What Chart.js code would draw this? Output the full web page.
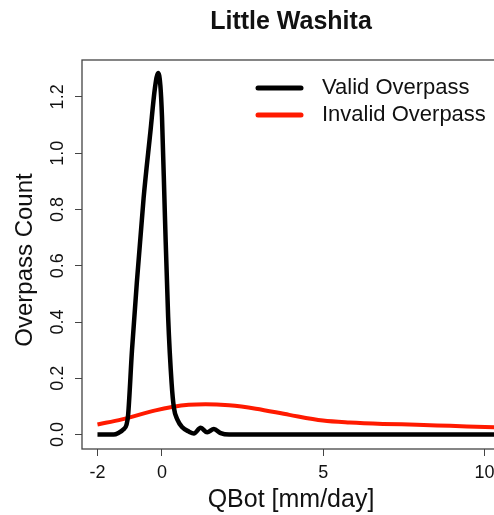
<!DOCTYPE html>
<html>
<head>
<meta charset="utf-8">
<script src="https://cdn.jsdelivr.net/npm/chart.js@4"></script>
<style>
  html, body { margin:0; padding:0; background:#fff; overflow:hidden; }
  #wrap { width:510px; height:515px; }
</style>
</head>
<body>
<div id="wrap"><canvas id="chart" width="510" height="515"></canvas></div>
<script>
// ===== Datos =====
const validX = [-2.0, -1.5, -1.35, -1.2, -1.1, -1.05, -0.93, -0.78, -0.57, -0.36, -0.22, -0.12, -0.05, 0.0, 0.09, 0.19, 0.30, 0.37, 0.47, 0.63, 0.83, 0.99, 1.20, 1.40, 1.61, 1.82, 2.08, 5.0, 10.5];
const validY = [0, 0, 0.006, 0.018, 0.035, 0.07, 0.30, 0.54, 0.84, 1.075, 1.23, 1.285, 1.24, 1.13, 0.78, 0.42, 0.18, 0.095, 0.055, 0.026, 0.011, 0.004, 0.024, 0.008, 0.020, 0.005, 0, 0, 0];

const invalidX = [-2.0, -1.24, -0.2, 0.31, 0.83, 1.35, 2.08, 2.91, 3.95, 4.99, 5.82, 6.85, 7.9, 8.93, 10.3, 10.5];
const invalidY = [0.036, 0.054, 0.086, 0.098, 0.106, 0.108, 0.104, 0.092, 0.070, 0.050, 0.043, 0.038, 0.035, 0.031, 0.026, 0.025];

const xTicks = [-2, 0, 5, 10];
const yTicks = [0, 0.2, 0.4, 0.6, 0.8, 1.0, 1.2];

const FONT = 'Liberation Sans, Arial, sans-serif';
const toPoints = (xs, ys) => xs.map((x, i) => ({x, y: ys[i]}));

// ===== Plugin: caja, etiquetas Y rotadas, título Y y leyenda =====
const rStyle = {
  id: 'rStyle',
  afterDraw(chart){
    const {ctx, chartArea:{left, top, right, bottom}, scales:{y}} = chart;
    ctx.save();
    // caja
    ctx.strokeStyle = '#444';
    ctx.lineWidth = 1.3;
    ctx.strokeRect(left, top, right - left, bottom - top);

    // etiquetas del eje Y (paralelas al eje)
    ctx.fillStyle = '#111';
    ctx.font = `18px ${FONT}`;
    ctx.textAlign = 'center';
    ctx.textBaseline = 'alphabetic';
    yTicks.forEach(v => {
      const py = y.getPixelForValue(v);
      ctx.save();
      ctx.translate(63, py);
      ctx.rotate(-Math.PI/2);
      ctx.fillText(v.toFixed(1), 0, 0);
      ctx.restore();
    });

    // título eje Y
    ctx.save();
    ctx.font = `24px ${FONT}`;
    ctx.textBaseline = 'middle';
    ctx.translate(25, 260);
    ctx.rotate(-Math.PI/2);
    ctx.fillText('Overpass Count', 0, 0);
    ctx.restore();

    // leyenda
    ctx.font = `22px ${FONT}`;
    ctx.textAlign = 'left';
    ctx.textBaseline = 'middle';
    ctx.lineCap = 'round';
    chart.data.datasets.forEach((d, i) => {
      const ly = 88 + i * 27;
      ctx.strokeStyle = d.borderColor;
      ctx.lineWidth = 5;
      ctx.beginPath();
      ctx.moveTo(258, ly);
      ctx.lineTo(301, ly);
      ctx.stroke();
      ctx.fillStyle = '#111';
      ctx.fillText(d.label, 322, ly);
    });
    ctx.restore();
  }
};

new Chart(document.getElementById('chart'), {
  type: 'line',
  data: {
    datasets: [
      { label: 'Valid Overpass', data: toPoints(validX, validY), borderColor: '#000', borderWidth: 4.5,
        pointRadius: 0, cubicInterpolationMode: 'monotone', fill: false },
      { label: 'Invalid Overpass', data: toPoints(invalidX, invalidY), borderColor: '#ff1a00', borderWidth: 4,
        pointRadius: 0, cubicInterpolationMode: 'monotone', fill: false }
    ]
  },
  options: {
    responsive: false,
    animation: false,
    layout: { padding: { left: 0, right: 10, top: 0, bottom: 0 } },
    plugins: {
      legend: { display: false },
      tooltip: { enabled: false },
      title: {
        display: true, text: 'Little Washita', fullSize: false, color: '#111',
        font: { family: FONT, size: 25, weight: 'bold' },
        padding: { top: 7, bottom: 23 }
      }
    },
    scales: {
      x: {
        type: 'linear', min: -2.48, max: 10.48,
        afterBuildTicks: s => { s.ticks = xTicks.map(v => ({value: v})); },
        afterFit: s => { s.height = 66; },
        border: { display: false },
        grid: { drawOnChartArea: false, drawTicks: true, tickLength: 7, color: '#444' },
        ticks: { color: '#111', font: { family: FONT, size: 18 }, padding: 6, maxRotation: 0 },
        title: { display: true, text: 'QBot [mm/day]', color: '#111', font: { family: FONT, size: 25 }, padding: 0 }
      },
      y: {
        type: 'linear', min: -0.0512, max: 1.331,
        afterBuildTicks: s => { s.ticks = yTicks.map(v => ({value: v})); },
        afterFit: s => { s.width = 82; },
        border: { display: false },
        grid: { drawOnChartArea: false, drawTicks: true, tickLength: 7, color: '#444' },
        ticks: { display: false }
      }
    }
  },
  plugins: [rStyle]
});
</script>
</body>
</html>
